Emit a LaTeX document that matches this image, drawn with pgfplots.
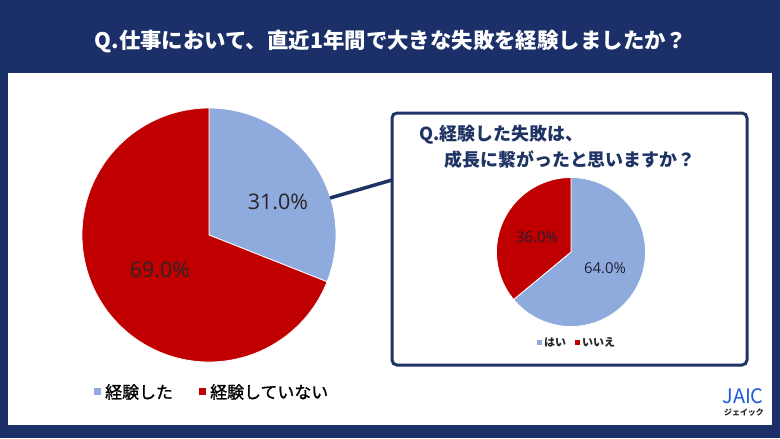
\documentclass[border=0pt]{standalone}
\usepackage{pgfplots}
\pgfplotsset{compat=1.18}
\usepackage{pgfplotstable}
\usepackage{fontspec}
\setmainfont{Noto Sans CJK JP}
\newfontfamily\medfont{Noto Sans CJK JP}[FakeBold=1.2]
\newfontfamily\numfont{Open Sans}

\definecolor{navy}{RGB}{27,47,104}
\definecolor{sliceblue}{RGB}{143,170,220}
\definecolor{slicered}{RGB}{192,0,0}
\definecolor{boxnavy}{RGB}{31,52,100}
\definecolor{labeltext}{RGB}{38,38,38}
\definecolor{sublabel}{RGB}{30,32,50}
\definecolor{logoblue}{RGB}{30,90,220}

\pgfplotstableread{
cat value
did 31.0
didnot 69.0
}\mainpie
\pgfplotstableread{
cat value
yes 64.0
no 36.0
}\subpie

\pgfplotstablegetelem{0}{value}\of\mainpie \let\mainA\pgfplotsretval
\pgfplotstablegetelem{0}{value}\of\subpie \let\subA\pgfplotsretval

\begin{document}
\begin{tikzpicture}
\begin{axis}[
  scale only axis, width=780bp, height=438bp,
  xmin=0, xmax=780, ymin=0, ymax=438, y dir=reverse,
  hide axis, clip=false]
% background
\fill[navy] (axis cs:0,0) rectangle (axis cs:780,438);
\fill[white] (axis cs:8,73) rectangle (axis cs:772,425);
% title
\node[white, font=\bfseries\fontsize{21.5}{25}\selectfont] at (axis cs:391,42)
  {Q.仕事において、直近1年間で大きな失敗を経験しましたか？};
% main pie
\pgfmathsetmacro\angA{90-3.6*\mainA}
\fill[sliceblue, draw=white, line width=0.8bp] (axis cs:209,235) -- ++(90:127bp)
  arc[start angle=90, end angle=\angA, radius=127bp] -- cycle;
\fill[slicered, draw=white, line width=0.8bp] (axis cs:209,235) -- ++(\angA:127bp)
  arc[start angle=\angA, end angle=-270, radius=127bp] -- cycle;
\node[labeltext, font=\numfont\fontsize{21.5}{23}\selectfont] at (axis cs:278,202) {31.0\%};
\node[labeltext, font=\numfont\fontsize{21.5}{23}\selectfont] at (axis cs:160,270) {69.0\%};
% connector
\draw[boxnavy, line width=3.5bp] (axis cs:330,198) -- (axis cs:392,180);
% inset box
\draw[boxnavy, fill=white, line width=3bp, rounded corners=5bp]
  (axis cs:392,113) rectangle (axis cs:747,365);
\node[boxnavy, anchor=west, font=\bfseries\fontsize{18}{20}\selectfont] at (axis cs:416,135) {Q.経験した失敗は、};
\node[boxnavy, anchor=west, font=\bfseries\fontsize{18}{20}\selectfont] at (axis cs:441,160) {成長に繋がったと思いますか？};
% sub pie
\pgfmathsetmacro\angB{90-3.6*\subA}
\fill[sliceblue, draw=white, line width=0.8bp] (axis cs:571,252) -- ++(90:74.5bp)
  arc[start angle=90, end angle=\angB, radius=74.5bp] -- cycle;
\fill[slicered, draw=white, line width=0.8bp] (axis cs:571,252) -- ++(\angB:74.5bp)
  arc[start angle=\angB, end angle=-270, radius=74.5bp] -- cycle;
\node[sublabel, font=\numfont\fontsize{15}{17}\selectfont] at (axis cs:537,237) {36.0\%};
\node[sublabel, font=\numfont\fontsize{15}{17}\selectfont] at (axis cs:605,268) {64.0\%};
% sub legend
\fill[sliceblue] (axis cs:537,340) rectangle (axis cs:542,345);
\node[labeltext, anchor=west, font=\bfseries\fontsize{11}{13}\selectfont, inner sep=0pt] at (axis cs:544,342.5) {はい};
\fill[slicered] (axis cs:575,340) rectangle (axis cs:580,345);
\node[labeltext, anchor=west, font=\bfseries\fontsize{11}{13}\selectfont, inner sep=0pt] at (axis cs:582,342.5) {いいえ};
% main legend
\fill[sliceblue] (axis cs:94,388) rectangle (axis cs:101,395);
\node[black, anchor=west, font=\medfont\fontsize{17}{19}\selectfont, inner sep=0pt] at (axis cs:105,392) {経験した};
\fill[slicered] (axis cs:199,388) rectangle (axis cs:206,395);
\node[black, anchor=west, font=\medfont\fontsize{17}{19}\selectfont, inner sep=0pt] at (axis cs:210,392) {経験していない};
% logo
\node[logoblue, font=\fontsize{20}{21}\selectfont, inner sep=0pt] at (axis cs:743,396) {JAIC};
\node[labeltext, font=\bfseries\fontsize{8}{9}\selectfont, inner sep=0pt] at (axis cs:744,413) {ジェイック};
\end{axis}
\end{tikzpicture}
\end{document}
